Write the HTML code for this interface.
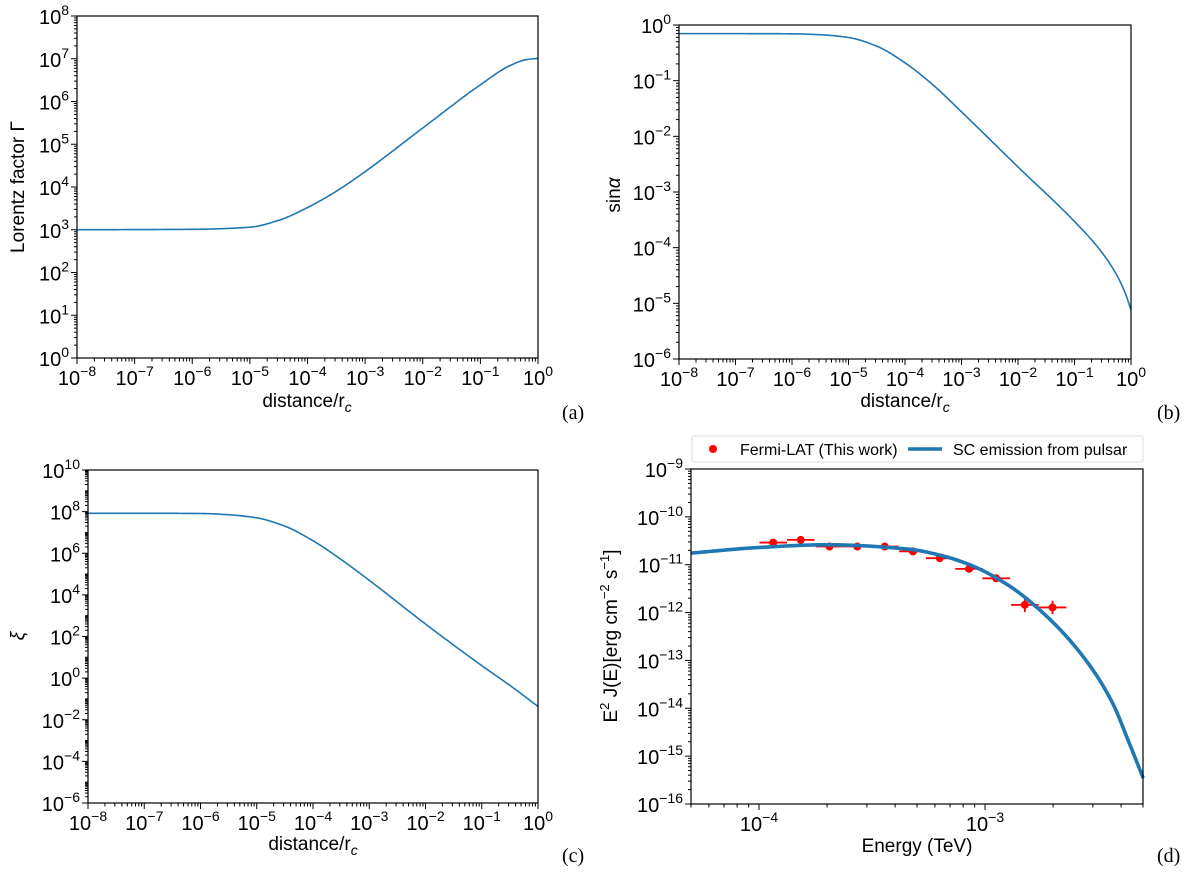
<!DOCTYPE html>
<html><head><meta charset="utf-8">
<style>
html,body{margin:0;padding:0;background:#fff;}
svg{display:block;font-family:"Liberation Sans","DejaVu Sans",sans-serif;}
</style></head>
<body>
<svg id="fig" width="1200" height="875" viewBox="0 0 1200 875" xmlns="http://www.w3.org/2000/svg"></svg>
<script>
// ---- data (log10 values) ----
const aLogX = [-8,-6,-5,-4.5,-4,-3.5,-3,-2,-1,-0.5,-0.2,0];
const aLogY = [3,3.01,3.06,3.22,3.52,3.9,4.36,5.38,6.39,6.83,6.98,7.01];
const bLogX = [-8,-7,-6,-5.5,-5,-4.5,-4,-3.5,-3,-2,-1,-0.55,-0.27,-0.1,0];
const bLogY = [-0.155,-0.155,-0.158,-0.175,-0.225,-0.38,-0.68,-1.08,-1.56,-2.55,-3.53,-4.04,-4.46,-4.82,-5.12];
const cLogX = [-8,-7,-6,-5.5,-5,-4.5,-4,-3.5,-3,-2,-1,-0.5,0];
const cLogY = [7.92,7.92,7.91,7.85,7.7,7.3,6.6,5.7,4.7,2.6,0.6,-0.35,-1.36];
const dCurveLogX = [-4.301,-4.0,-3.7,-3.34,-3.2,-3.068,-2.9,-2.745,-2.574,-2.44,-2.36,-2.30];
const dCurveLogY = [-10.757,-10.64,-10.583,-10.674,-10.8,-11.0,-11.42,-12.0,-12.87,-13.85,-14.75,-15.46];
const dPtsE = [1.156e-4,1.53e-4,2.05e-4,2.72e-4,3.6e-4,4.8e-4,6.3e-4,8.5e-4,1.12e-3,1.5e-3,1.99e-3];
const dPtsF = [2.9e-11,3.3e-11,2.4e-11,2.4e-11,2.4e-11,1.9e-11,1.37e-11,8.2e-12,5.2e-12,1.45e-12,1.28e-12];
const dPtsXErr = [0.061,0.061,0.061,0.061,0.061,0.061,0.061,0.061,0.061,0.061,0.061];
const dPtsYErr = [0.02,0.02,0.02,0.02,0.02,0.03,0.03,0.04,0.04,0.15,0.14];

const NS='http://www.w3.org/2000/svg';
const svg=document.getElementById('fig');
function el(tag,attrs,parent){const e=document.createElementNS(NS,tag);for(const k in attrs)e.setAttribute(k,attrs[k]);(parent||svg).appendChild(e);return e;}
function monotone(xs,ys){
  const n=xs.length,dl=[],m=new Array(n);
  for(let i=0;i<n-1;i++)dl.push((ys[i+1]-ys[i])/(xs[i+1]-xs[i]));
  m[0]=dl[0];m[n-1]=dl[n-2];
  for(let i=1;i<n-1;i++){
    if(dl[i-1]*dl[i]<=0)m[i]=0;
    else{const h0=xs[i]-xs[i-1],h1=xs[i+1]-xs[i];m[i]=3*(h0+h1)/((2*h1+h0)/dl[i-1]+(h1+2*h0)/dl[i]);}
  }
  return function(x){
    let i=0;while(i<n-2&&x>xs[i+1])i++;
    const h=xs[i+1]-xs[i],t=(x-xs[i])/h,t2=t*t,t3=t2*t;
    return (2*t3-3*t2+1)*ys[i]+(t3-2*t2+t)*h*m[i]+(-2*t3+3*t2)*ys[i+1]+(t3-t2)*h*m[i+1];
  };
}
function sup(parent,x,y,base,exp,anchor,name){
  const tx=el('text',{x:x,y:y,'font-size':20,'text-anchor':anchor,fill:'#000'},parent);
  
  
  const s1=el('tspan',{},tx);s1.textContent=base;
  const s2=el('tspan',{dy:-9,'font-size':14},tx);s2.textContent=exp;
  return tx;
}
function panel(id,L,R,T,B,x0,x1,y0,y1,yStep){
  const g=el('g',{});
  
  
  const X=v=>L+(v-x0)/(x1-x0)*(R-L);
  const Y=v=>B-(v-y0)/(y1-y0)*(B-T);
  for(let d=Math.floor(x0);d<=Math.ceil(x1);d++){
    for(let m=1;m<10;m++){
      const lv=d+Math.log10(m);
      if(lv<x0-1e-9||lv>x1+1e-9)continue;
      const px=X(lv);
      el('line',{x1:px,x2:px,y1:B,y2:B+(m==1?6:3.5),stroke:'#000','stroke-width':1},g);
      if(m==1){
        const ex=d<0?'\u2212'+(-d):''+d;
        sup(g,px,B+27,'10',ex,'middle','x-tick-label');
      }
    }
  }
  for(let d=Math.floor(y0);d<=Math.ceil(y1);d++){
    for(let m=1;m<10;m++){
      const lv=d+Math.log10(m);
      if(lv<y0-1e-9||lv>y1+1e-9)continue;
      const py=Y(lv);
      const major=(m==1&&((d-y0)%yStep==0));
      el('line',{x1:L,x2:L-(major?6:3),y1:py,y2:py,stroke:'#000','stroke-width':1},g);
      if(major){
        const ex=d<0?'\u2212'+(-d):''+d;
        sup(g,L-8,py+8,'10',ex,'end','y-tick-label');
      }
    }
  }
  return {g,X,Y};
}
function frame(g,L,R,T,B){
  const r=el('rect',{x:L,y:T,width:R-L,height:B-T,fill:'none',stroke:'#000','stroke-width':1.2},g);
  
  
}
function label(g,txt,x,y,rot,name,size){
  const t=el('text',{x:x,y:y,'font-size':size||19,'text-anchor':'middle',fill:'#000',transform:rot?`rotate(-90 ${x} ${y})`:''},g);
  
  
  t.innerHTML=txt;return t;
}
function plabel(txt,x,y){
  const t=el('text',{x:x,y:y,'font-size':20,'font-family':'Liberation Serif, serif',fill:'#000'});
  
  
  t.textContent=txt;
}
function curve(p,lx,ly,w,name){
  const f=monotone(lx,ly);
  const N=400,a=lx[0],b=lx[lx.length-1];
  let d='';
  for(let i=0;i<=N;i++){const x=a+(b-a)*i/N;d+=(i?'L':'M')+p.X(x).toFixed(2)+','+p.Y(f(x)).toFixed(2);}
  const path=el('path',{d:d,fill:'none',stroke:'#1f77b4','stroke-width':w,'stroke-linejoin':'round'},p.g);
  
  
}
const xlab='distance/r<tspan font-size="14" font-style="italic" dy="5">c</tspan>';
let A=panel('a',77,538,16,358,-8,0,0,8,1);
curve(A,aLogX,aLogY,1.6,'lorentz-curve');frame(A.g,77,538,16,358);
label(A.g,'Lorentz factor \u0393',24,187,true,'y-axis-title');
label(A.g,xlab,307,407,false,'x-axis-title');
plabel('(a)',562,419);
let Bp=panel('b',679,1131,25,359,-8,0,-6,0,1);
curve(Bp,bLogX,bLogY,1.6,'sin-alpha-curve');frame(Bp.g,679,1131,25,359);
label(Bp.g,'sin<tspan font-style="italic">\u03b1</tspan>',620,195,true,'y-axis-title');
label(Bp.g,xlab,905,407,false,'x-axis-title');
plabel('(b)',1157,419);
let C=panel('c',88,538,470,803,-8,0,-6,10,2);
curve(C,cLogX,cLogY,1.6,'xi-curve');frame(C.g,88,538,470,803);
label(C.g,'<tspan font-style="italic">\u03be</tspan>',24,636,true,'y-axis-title');
label(C.g,xlab,313,850,false,'x-axis-title');
plabel('(c)',562,862);
const dx0=Math.log10(5e-5),dx1=Math.log10(5e-3);
let D=panel('d',691,1143,469,804,dx0,dx1,-16,-9,1);
dPtsE.forEach((e,i)=>{
  const lx=Math.log10(e),ly=Math.log10(dPtsF[i]);
  const px=D.X(lx),py=D.Y(ly);
  const g=el('g',{},D.g);
  
  
  el('line',{x1:D.X(lx-dPtsXErr[i]),x2:D.X(lx+dPtsXErr[i]),y1:py,y2:py,stroke:'#ff0000','stroke-width':1.8},g);
  el('line',{x1:px,x2:px,y1:D.Y(ly-dPtsYErr[i]),y2:D.Y(ly+dPtsYErr[i]),stroke:'#ff0000','stroke-width':1.8},g);
  el('circle',{cx:px,cy:py,r:4,fill:'#ff0000'},g);
});
curve(D,dCurveLogX,dCurveLogY,3.6,'sc-emission-curve');
frame(D.g,691,1143,469,804);
label(D.g,'E<tspan font-size="13" dy="-8">2</tspan><tspan dy="8"> J(E)[erg cm</tspan><tspan font-size="13" dy="-8">\u22122</tspan><tspan dy="8"> s</tspan><tspan font-size="13" dy="-8">\u22121</tspan><tspan dy="8">]</tspan>',617,636,true,'y-axis-title');
label(D.g,'Energy (TeV)',917,852,false,'x-axis-title');
plabel('(d)',1157,862);
const lg=el('g',{},D.g);


el('rect',{x:692,y:436,width:451,height:26,rx:2,fill:'#fff',stroke:'#ddd','stroke-width':1},lg);
const ld=el('circle',{cx:713,cy:449,r:4,fill:'#ff0000'},lg);


const t1=el('text',{x:740,y:455,'font-size':16,fill:'#000'},lg);t1.textContent='Fermi-LAT (This work)';
const ll=el('line',{x1:908,x2:942,y1:449,y2:449,stroke:'#1f77b4','stroke-width':3.6},lg);


const t2=el('text',{x:953,y:455,'font-size':16,fill:'#000'},lg);t2.textContent='SC emission from pulsar';
</script>
</body></html>
